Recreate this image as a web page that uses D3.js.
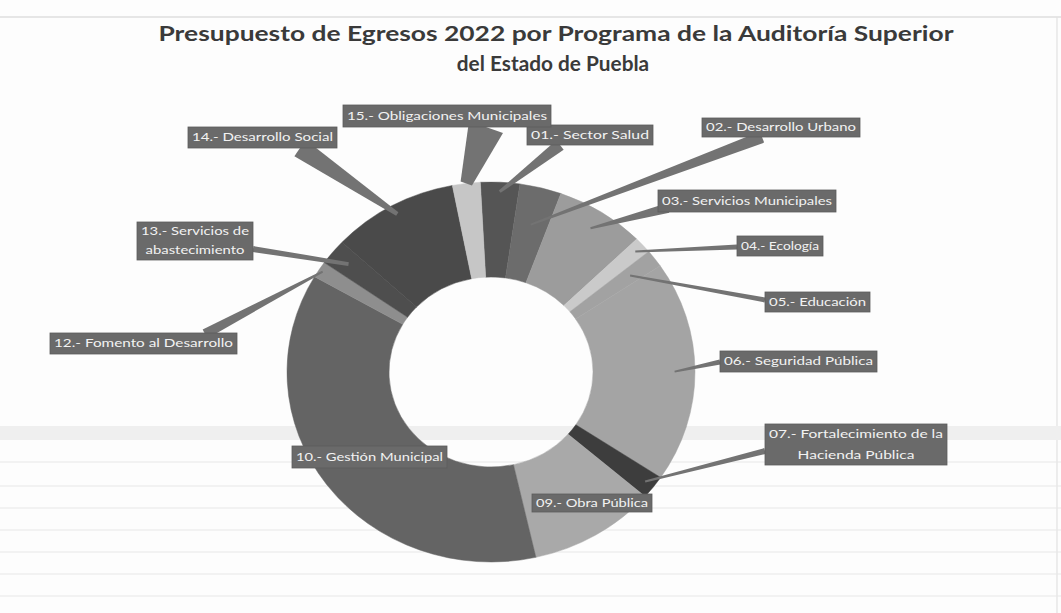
<!DOCTYPE html>
<html><head><meta charset="utf-8">
<script src="https://cdn.jsdelivr.net/npm/d3@7"></script>
<style>body{margin:0;background:#fff}svg{display:block}</style>
</head><body>
<svg id="c" width="1061" height="613"></svg>
<script>
// ---- data ----
const programas = ["01.- Sector Salud","02.- Desarrollo Urbano","03.- Servicios Municipales","04.- Ecología","05.- Educación","06.- Seguridad Pública","07.- Fortalecimiento de la Hacienda Pública","09.- Obra Pública","10.- Gestión Municipal","12.- Fomento al Desarrollo","13.- Servicios de abastecimiento","14.- Desarrollo Social","15.- Obligaciones Municipales"];
const porcentajes = [3.1,3.3,7.1,1.4,1.5,18.8,2.0,10.1,36.9,1.4,2.2,10.0,2.2];
const tituloLineas = ["Presupuesto de Egresos 2022 por Programa de la Auditoría Superior","del Estado de Puebla"];

// ---- styles / layout ----
const tonos = ["#555555","#6c6c6c","#9c9c9c","#cacaca","#a2a2a2","#a4a4a4","#3d3d3d","#a9a9a9","#646464","#8e8e8e","#4e4e4e","#4a4a4a","#c6c6c6"];
const etiquetaLineas = [["01.- Sector Salud"],["02.- Desarrollo Urbano"],["03.- Servicios Municipales"],["04.- Ecología"],["05.- Educación"],["06.- Seguridad Pública"],["07.- Fortalecimiento de la","Hacienda Pública"],["09.- Obra Pública"],["10.- Gestión Municipal"],["12.- Fomento al Desarrollo"],["13.- Servicios de","abastecimiento"],["14.- Desarrollo Social"],["15.- Obligaciones Municipales"]];
// box x,y,w,h ; leader anchor ax,ay ; base half width, tip half width, radius factor
const cajas = [
  {x:527,y:125,w:126,h:20, ax:560,ay:145, hb:6, ht:1.5, rf:0.95},
  {x:702,y:118,w:158,h:19, ax:762,ay:137, hb:6, ht:1, rf:0.8},
  {x:658,y:190,w:178,h:22, ax:668,ay:208, hb:5, ht:1, rf:0.9},
  {x:737,y:236,w:86,h:20, ax:737,ay:247, hb:2.5, ht:1, rf:0.95},
  {x:765,y:292,w:105,h:20, ax:765,ay:300, hb:2.5, ht:1, rf:0.85},
  {x:720,y:351,w:157,h:21, ax:720,ay:362, hb:2.5, ht:1, rf:0.9},
  {x:765,y:424,w:182,h:41, ax:765,ay:451, hb:3, ht:1, rf:0.95},
  {x:532,y:494,w:120,h:18, ax:null},
  {x:292,y:446,w:155,h:22, ax:null},
  {x:50,y:333,w:187,h:21, ax:205,ay:334, hb:5, ht:1, rf:0.98},
  {x:137,y:222,w:116,h:38, ax:253,ay:249, hb:3, ht:2, rf:0.9},
  {x:188,y:127,w:149,h:21, ax:300,ay:148, hb:10, ht:2, rf:0.95},
  {x:343,y:105,w:208,h:22, ax:486,ay:127, hb:18, ht:6, rf:1.0}
];
const cx = 491, cy = 372, rx = 204, ry = 190;

const svg = d3.select("#c");
svg.append("rect").attr("width",1061).attr("height",613).attr("fill","#fdfdfd");

// faint paper / table traces of the scan
const fondo = svg.append("g").attr("stroke","#e8e8e8").attr("stroke-width",1.2);
fondo.append("line").attr("x1",0).attr("x2",1061).attr("y1",17).attr("y2",17).attr("stroke","#cfcfcf");
fondo.append("line").attr("x1",1057).attr("x2",1057).attr("y1",17).attr("y2",613).attr("stroke","#e2e2e2");
[462,486,508,530,552,574,596].forEach(y=>fondo.append("line").attr("x1",0).attr("x2",1061).attr("y1",y).attr("y2",y));
svg.append("rect").attr("x",0).attr("y",426).attr("width",1061).attr("height",14).attr("fill","#efefef");

// title
const titulo = svg.append("g").attr("font-family","Lato, 'Open Sans', sans-serif").attr("font-weight","bold").attr("fill","#3a3a3a").attr("text-anchor","middle");
titulo.append("text").attr("x",556).attr("y",41).attr("font-size",20).attr("textLength",795).attr("lengthAdjust","spacingAndGlyphs").text(tituloLineas[0]);
const t2 = titulo.append("text").attr("x",553).attr("y",71).attr("font-size",20).text(tituloLineas[1]);
t2.attr("textLength", t2.node().getComputedTextLength()*1.04).attr("lengthAdjust","spacingAndGlyphs");

// donut
const datos = programas.map((p,i)=>({p, v:porcentajes[i], i}));
const pie = d3.pie().value(d=>d.v).sort(null).startAngle(-3*Math.PI/180).endAngle(-3*Math.PI/180 + 2*Math.PI);
const arcs = pie(datos);
const arc = d3.arc().innerRadius(102).outerRadius(rx);
const gDonut = svg.append("g").attr("transform",`translate(${cx},${cy}) scale(1,${ry/rx})`);
gDonut.selectAll("path").data(arcs).join("path").attr("d",arc).attr("fill",d=>tonos[d.data.i]).attr("stroke",d=>tonos[d.data.i]).attr("stroke-width",0.5);

// leader wedges
const punto = (a, rf) => [cx + rx*rf*Math.sin(a), cy - ry*rf*Math.cos(a)];
const gLead = svg.append("g").attr("fill","#737373");
arcs.forEach(a=>{
  const c = cajas[a.data.i];
  if (c.ax===null) return;
  const mid = (a.startAngle + a.endAngle)/2;
  const [tx,ty] = punto(mid, c.rf);
  const dx = tx - c.ax, dy = ty - c.ay, L = Math.hypot(dx,dy);
  const nx = -dy/L, ny = dx/L;
  const pts = [[c.ax+nx*c.hb, c.ay+ny*c.hb],[tx+nx*c.ht, ty+ny*c.ht],[tx-nx*c.ht, ty-ny*c.ht],[c.ax-nx*c.hb, c.ay-ny*c.hb]];
  gLead.append("polygon").attr("points",pts.map(p=>p.join(",")).join(" "));
});

// label boxes
const gLab = svg.append("g").attr("font-family","Lato, 'Open Sans', sans-serif").attr("font-size",10.5).attr("fill","#f2f2f2");
arcs.forEach(a=>{
  const i = a.data.i, c = cajas[i], lines = etiquetaLineas[i];
  gLab.append("rect").attr("x",c.x).attr("y",c.y).attr("width",c.w).attr("height",c.h).attr("fill","#6a6a6a").attr("stroke","#5c5c5c").attr("stroke-width",0.8);
  const n = lines.length, lh = c.h/n;
  const texts = lines.map((t,k)=> gLab.append("text").attr("x",c.x + c.w/2).attr("y",c.y + lh*k + lh/2 + 3.8).attr("text-anchor","middle").text(t));
  const widths = texts.map(t=>t.node().getComputedTextLength());
  const f = (c.w - 8) / d3.max(widths);
  texts.forEach((t,k)=> t.attr("textLength", widths[k]*f).attr("lengthAdjust","spacingAndGlyphs"));
});
</script>
</body></html>
